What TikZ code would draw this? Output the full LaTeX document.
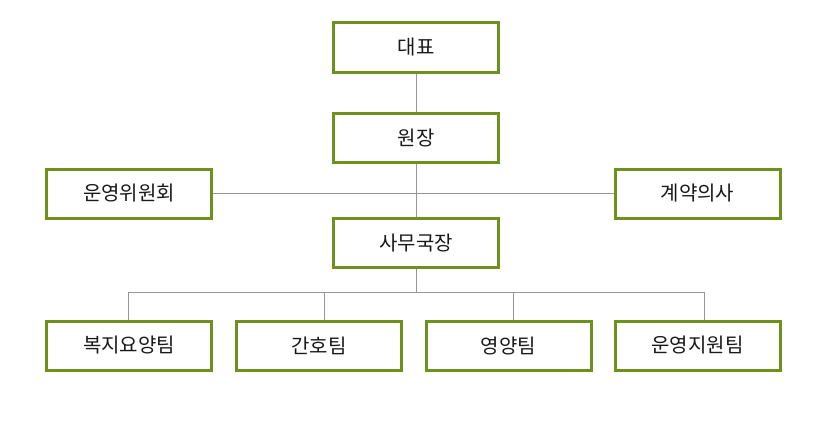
\documentclass[tikz,border=0pt]{standalone}
\usepackage{fontspec}
\setmainfont{Noto Sans CJK KR}
\definecolor{boxgreen}{RGB}{110,145,28}
\definecolor{linegray}{RGB}{150,150,150}
\definecolor{txt}{RGB}{25,25,25}
\begin{document}
\begin{tikzpicture}[x=1pt,y=-1pt,
  orgbox/.style={draw=boxgreen, line width=3pt, fill=white, minimum width=165pt, minimum height=49pt, inner sep=0pt, text=txt, font=\fontsize{20pt}{24pt}\selectfont},
  conn/.style={draw=linegray, line width=1pt}]
\useasboundingbox (0,0) rectangle (832,428);
\coordinate (bus) at (416,292);
\coordinate (d1) at (128,292);
\coordinate (d2) at (324.5,292);
\coordinate (d3) at (513,292);
\coordinate (d4) at (704,292);
\node[orgbox] (ceo) at (416,47.5) {대표};
\node[orgbox] (dir) at (416,138) {원장};
\node[orgbox] (com) at (129,193.5) {운영위원회};
\node[orgbox] (doc) at (697.5,193.5) {계약의사};
\node[orgbox] (sec) at (416,243) {사무국장};
\node[orgbox] (t1) at (129,345.5) {복지요양팀};
\node[orgbox] (t2) at (319,345.5) {간호팀};
\node[orgbox] (t3) at (508.5,345.5) {영양팀};
\node[orgbox] (t4) at (697.5,345.5) {운영지원팀};
\draw[conn] (ceo.south) -- (dir.north);
\draw[conn] (dir.south) -- (sec.north);
\draw[conn] (com.east) -- (doc.west);
\draw[conn] (sec.south) -- (bus);
\draw[conn] (d1) -- (d4);
\draw[conn] (d1) -- (d1 |- t1.north);
\draw[conn] (d2) -- (d2 |- t2.north);
\draw[conn] (d3) -- (d3 |- t3.north);
\draw[conn] (d4) -- (d4 |- t4.north);
\end{tikzpicture}
\end{document}
